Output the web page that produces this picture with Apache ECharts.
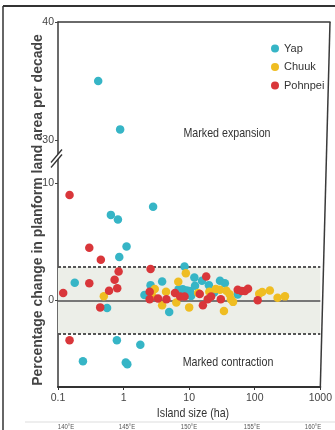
<!DOCTYPE html>
<html><head><meta charset="utf-8">
<script src="https://cdn.jsdelivr.net/npm/echarts@6/dist/echarts.min.js"></script>
<style>html,body{margin:0;padding:0;background:#fff}#c{width:335px;height:430px}</style>
</head><body><div id="c"></div>
<script>
// ---- data ----
const seriesNames = ['Yap', 'Chuuk', 'Pohnpei'];
const colors = ['#36b5c6', '#efbd22', '#d9363a'];
const yapUpper = [[0.39, 35.0], [0.82, 30.9]];
const yapLower = [[0.64, 7.3], [0.82, 6.9], [2.82, 8.0], [1.11, 4.6], [0.86, 3.7], [8.5, 2.9], [0.18, 1.5],
  [0.56, -0.65], [0.79, -3.4], [1.8, -3.8], [0.24, -5.2], [1.08, -5.3], [1.14, -5.45],
  [2.08, 0.45], [2.58, 1.3], [3.87, 1.6], [4.96, -1.0], [6.9, 0.95], [8.0, 0.95], [9.2, 0.85], [10.3, 0.8],
  [7.6, 0.55], [8.9, 0.55], [10.7, 0.38], [12, 1.95], [12.3, 1.25], [15.7, 1.67], [20, 1.3], [24, 0.67],
  [29.5, 1.67], [35, 1.47], [55, 0.5]];
const chuukLower = [[0.5, 0.35], [2.99, 0.96], [2.76, 0.38], [4.44, 0.73], [3.87, -0.41], [6.82, 1.58],
  [6.37, -0.19], [8.9, 2.32], [10, -0.6], [13.7, 0.62], [20.3, 0.73], [25.5, 0.96], [29.5, 0.9], [33.9, -0.9],
  [37, 0.81], [41.3, 0.53], [43.3, 0.1], [46.7, -0.13], [117, 0.57], [130, 0.71], [170, 0.85], [223, 0.23], [289, 0.34]];
const pohnpeiLower = [[0.15, 9.0], [0.30, 4.5], [0.45, 3.46], [0.84, 2.46], [2.58, 2.67], [0.12, 0.62], [0.30, 1.47],
  [0.73, 1.75], [0.80, 1.04], [0.60, 0.81], [0.44, -0.6], [0.15, -3.4], [2.5, 0.73], [2.5, 0.1], [3.35, 0.15],
  [4.5, 0.1], [6.08, 0.62], [7.3, 0.33], [8.5, 0.33], [14.5, 0.55], [18.2, 2.03], [19.2, 0.1], [21.6, 0.33],
  [16.2, -0.41], [30.4, 0.1], [55, 0.9], [63, 0.8], [71, 0.8], [79, 1.0], [111, 0.0]];
const xRange = [0.1, 1000];
const upperRange = [28.5, 40];
const lowerRange = [-7.4, 12.2];
const upperTicks = [30, 40];
const lowerTicks = [0, 10];
const bandLimits = [-2.85, 2.85];
const zeroLine = 0;
const mapLabels = ['140°E', '145°E', '150°E', '155°E', '160°E'];
const zoneLabels = ['Marked expansion', 'Marked contraction'];
const yTitle = 'Percentage change in planform land area per decade';
const xTitle = 'Island size (ha)';

// ---- chart ----
const SANS = '"Liberation Sans",Arial,sans-serif';
const chart = echarts.init(document.getElementById('c'), null, {renderer: 'canvas'});
const axisLineStyle = {color: '#3a3a3a', width: 1.5};
const dot = 8.5;

const option = {
  animation: false,
  backgroundColor: '#fff',
  grid: [
    {left: 58, width: 272, top: 22, height: 135.7},
    {left: 58, width: 272, top: 157.5, height: 229.5}
  ],
  xAxis: [
    {gridIndex: 0, type: 'log', logBase: 10, min: xRange[0], max: xRange[1], position: 'top',
      axisLine: {show: true, lineStyle: axisLineStyle}, axisTick: {show: false}, axisLabel: {show: false}, splitLine: {show: false}},
    {gridIndex: 1, type: 'log', logBase: 10, min: xRange[0], max: xRange[1], position: 'bottom',
      axisLine: {show: true, onZero: false, lineStyle: {color: '#333', width: 2}},
      axisTick: {show: true, length: 3, lineStyle: {color: '#333'}},
      axisLabel: {show: true, margin: 6, fontFamily: SANS, fontSize: 10.5, color: '#444', formatter: v => String(v)},
      splitLine: {show: false}}
  ],
  yAxis: [
    {gridIndex: 0, type: 'value', min: upperRange[0], max: upperRange[1],
      axisLine: {show: true, lineStyle: axisLineStyle},
      axisTick: {show: true, length: 3, customValues: upperTicks, lineStyle: {color: '#444'}},
      axisLabel: {show: true, margin: 4, customValues: upperTicks, fontFamily: SANS, fontSize: 10.5, color: '#444'},
      splitLine: {show: false}},
    {gridIndex: 1, type: 'value', min: lowerRange[0], max: lowerRange[1],
      axisLine: {show: true, onZero: false, lineStyle: axisLineStyle},
      axisTick: {show: true, length: 3, customValues: lowerTicks, lineStyle: {color: '#444'}},
      axisLabel: {show: true, margin: 4, customValues: lowerTicks, fontFamily: SANS, fontSize: 10.5, color: '#444'},
      splitLine: {show: false}}
  ],
  legend: {
    orient: 'vertical', left: 266, top: 38, itemWidth: 8, itemHeight: 8, itemGap: 7.5,
    icon: 'circle', data: seriesNames,
    textStyle: {fontFamily: SANS, fontSize: 11, color: '#333'}
  },
  series: [
    {name: seriesNames[0], type: 'scatter', xAxisIndex: 0, yAxisIndex: 0, data: yapUpper,
      symbolSize: dot, itemStyle: {color: colors[0], opacity: 1}, z: 5},
    {name: seriesNames[0], type: 'scatter', xAxisIndex: 1, yAxisIndex: 1, data: yapLower,
      symbolSize: dot, itemStyle: {color: colors[0], opacity: 1}, z: 5,
      markArea: {silent: true, itemStyle: {color: '#eceee8'}, data: [[{yAxis: bandLimits[0]}, {yAxis: bandLimits[1]}]]},
      markLine: {silent: true, symbol: 'none', label: {show: false},
        data: [
          {yAxis: bandLimits[0], lineStyle: {type: [3, 2], color: '#555', width: 2}},
          {yAxis: bandLimits[1], lineStyle: {type: [3, 2], color: '#555', width: 2}},
          {yAxis: zeroLine, lineStyle: {type: 'solid', color: '#777', width: 2}}
        ]}},
    {name: seriesNames[1], type: 'scatter', xAxisIndex: 1, yAxisIndex: 1, data: chuukLower,
      symbolSize: dot, itemStyle: {color: colors[1], opacity: 1}, z: 6},
    {name: seriesNames[2], type: 'scatter', xAxisIndex: 1, yAxisIndex: 1, data: pohnpeiLower,
      symbolSize: dot, itemStyle: {color: colors[2], opacity: 1}, z: 7}
  ]
};
chart.setOption(option);

// decorations positioned from the axes
const px = (v, gi) => chart.convertToPixel({gridIndex: gi}, v);
const topRight = px([xRange[1], upperRange[1]], 0);
const botRight = px([xRange[1], lowerRange[0]], 1);
const g = [];
g.push({type: 'line', shape: {x1: topRight[0], y1: topRight[1], x2: botRight[0], y2: botRight[1]},
  style: {stroke: '#3a3a3a', lineWidth: 1.5}, z: 50});
// axis break marks
const bx = 57, by = 157.5;
g.push({type: 'polygon', shape: {points: [[bx - 6, by + 5], [bx + 5, by - 8], [bx + 5, by - 3], [bx - 6, by + 10]]},
  style: {fill: '#fff'}, z: 60});
g.push({type: 'line', shape: {x1: bx - 6, y1: by + 5, x2: bx + 5, y2: by - 8}, style: {stroke: '#333', lineWidth: 1.3}, z: 61});
g.push({type: 'line', shape: {x1: bx - 6, y1: by + 10, x2: bx + 5, y2: by - 3}, style: {stroke: '#333', lineWidth: 1.3}, z: 61});
// condensed text labels
const narrowText = (t, x, y, size, extra) => Object.assign({type: 'text', x: x, y: y, scaleX: 0.82, z: 40,
  style: {text: t, align: 'center', verticalAlign: 'middle', font: size + 'px ' + SANS, fill: '#333'}}, extra || {});
g.push(narrowText(zoneLabels[0], 227, 133, 13));
g.push(narrowText(zoneLabels[1], 228, 362, 13));
g.push(narrowText(xTitle, 193, 413, 13));
// y title
g.push({type: 'text', x: 38, y: 210, rotation: Math.PI / 2, style: {text: yTitle, align: 'center', verticalAlign: 'middle',
  font: 'bold 14px ' + SANS, fill: '#444'}, z: 40});
// outer figure frame
g.push({type: 'line', shape: {x1: 3, y1: 6, x2: 335, y2: 6}, style: {stroke: '#333', lineWidth: 2}, z: 40});
g.push({type: 'line', shape: {x1: 3, y1: 6, x2: 3, y2: 430}, style: {stroke: '#333', lineWidth: 1.5}, z: 40});
g.push({type: 'line', shape: {x1: 25, y1: 422, x2: 335, y2: 422}, style: {stroke: '#ddd', lineWidth: 1}, z: 40});
const mapX = [66, 127, 189, 252, 313];
mapLabels.forEach((t, i) => g.push({type: 'text', x: mapX[i], y: 427, scaleX: 0.85, style: {text: t, align: 'center',
  verticalAlign: 'middle', font: '7px ' + SANS, fill: '#555'}, z: 40}));
chart.setOption({graphic: g});
</script>
</body></html>
